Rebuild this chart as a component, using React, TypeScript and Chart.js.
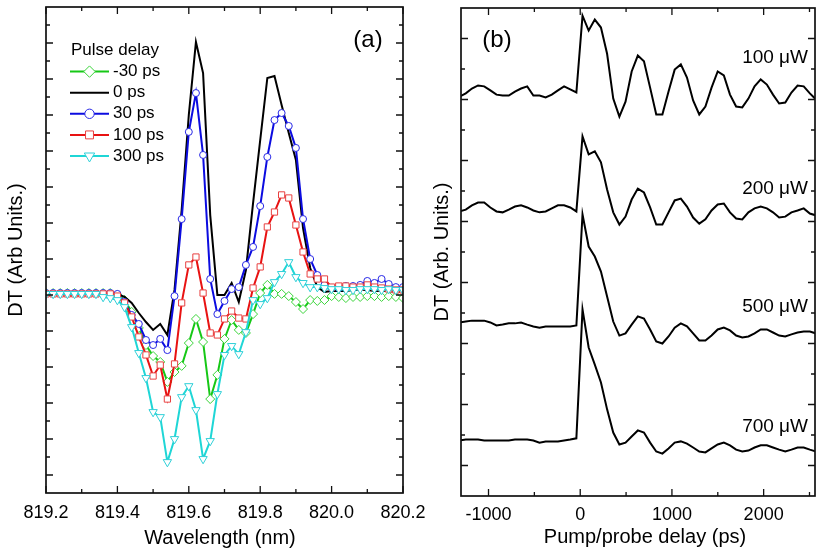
import React, { useEffect, useRef } from "react";
import { Chart, registerables } from "chart.js";

Chart.register(...registerables);

const FONT = "'Liberation Sans', Arial, Helvetica, sans-serif";
const W = 817;
const H = 553;

// ---------------- Panel (a): spectra vs wavelength ----------------
const wavelengthNm = [
  819.2, 819.22, 819.24, 819.26, 819.28, 819.3, 819.32, 819.34, 819.36, 819.38,
  819.4, 819.42, 819.44, 819.46, 819.48, 819.5, 819.52, 819.54, 819.56, 819.58,
  819.6, 819.62, 819.64, 819.66, 819.68, 819.7, 819.72, 819.74, 819.76, 819.78,
  819.8, 819.82, 819.84, 819.86, 819.88, 819.9, 819.92, 819.94, 819.96, 819.98,
  820.0, 820.02, 820.04, 820.06, 820.08, 820.1, 820.12, 820.14, 820.16, 820.18,
  820.2,
];
const wavelengthTicks = [819.2, 819.4, 819.6, 819.8, 820.0, 820.2];
const wavelengthMinorTicks = [819.3, 819.5, 819.7, 819.9, 820.1];

const dtMinus30ps = [
  0.11, 0.11, 0.11, 0.11, 0.11, 0.11, 0.11, 0.11, 0.11, 0.11,
  0.0, -0.28, -0.94, -1.83, -2.78, -3.39, -3.72, -4.83, -4.28, -3.94,
  -2.67, -1.33, -2.61, -5.78, -4.44, -2.44, -1.39, -1.94, -2.11, -1.06,
  0.11, 0.56, 0.06, 0.06, -0.06, -0.39, -0.78, -0.28, -0.33, -0.28,
  -0.06, -0.11, -0.17, -0.11, -0.11, -0.06, -0.06, -0.11, -0.06, -0.11,
  -0.17,
];
const dt0ps = [
  0.11, 0.11, 0.11, 0.11, 0.11, 0.11, 0.11, 0.11, 0.11, 0.11,
  0.06, -0.11, -0.44, -1.0, -1.5, -1.94, -1.61, -2.22, 0.28, 4.72,
  10.0, 14.06, 12.33, 4.44, 0.0, 0.0, 0.67, -0.39, 1.39, 5.11,
  8.61, 12.06, 12.17, 10.56, 9.0, 7.5, 3.72, 1.5, 0.44, 0.17,
  0.22, 0.22, 0.22, 0.28, 0.28, 0.28, 0.22, 0.22, 0.22, 0.17,
  0.17,
];
const dt30ps = [
  0.11, 0.11, 0.11, 0.11, 0.11, 0.11, 0.11, 0.11, 0.11, 0.11,
  0.06, -0.39, -1.11, -1.61, -2.5, -2.78, -2.44, -3.06, -0.06, 4.22,
  9.06, 11.22, 7.78, 0.89, -1.06, -0.33, 0.33, 0.44, 1.67, 2.67,
  4.94, 7.67, 9.72, 10.11, 9.39, 8.17, 4.22, 2.0, 1.11, 0.56,
  0.39, 0.39, 0.5, 0.5, 0.56, 0.78, 0.67, 0.89, 0.61, 0.44,
  0.44,
];
const dt100ps = [
  0.06, 0.06, 0.06, 0.06, 0.06, 0.06, 0.06, 0.06, 0.06, 0.06,
  -0.06, -0.44, -1.22, -2.33, -3.33, -4.5, -3.89, -5.78, -3.83, -0.44,
  1.67, 2.11, 0.11, -2.11, -2.22, -1.33, -0.89, -1.28, -1.33, 0.39,
  1.56, 3.78, 4.61, 5.56, 5.39, 3.89, 2.39, 1.17, 0.89, 0.89,
  0.44, 0.5, 0.5, 0.44, 0.44, 0.56, 0.44, 0.39, 0.33, 0.28,
  0.28,
];
const dt300ps = [
  0.06, 0.06, 0.06, 0.06, 0.06, 0.06, 0.06, 0.06, -0.11, -0.17,
  -0.28, -0.67, -1.78, -3.22, -4.61, -6.5, -6.78, -9.28, -8.0, -5.67,
  -5.06, -6.39, -9.11, -8.11, -5.5, -3.33, -2.83, -3.28, -2.06, -0.28,
  -0.5, -0.17, 0.72, 1.17, 1.83, 1.0, 0.67, 0.44, 0.44, 0.39,
  0.33, 0.33, 0.28, 0.28, 0.33, 0.33, 0.33, 0.28, 0.33, 0.28,
  0.28,
];
const pulseDelayLabels = ["-30 ps", "0 ps", "30 ps", "100 ps", "300 ps"];

// ---------------- Panel (b): transients vs pump/probe delay ----------------
const delayPs = [
  -1315, -1248, -1181, -1114, -1047, -980, -913, -846, -779, -712,
  -645, -578, -511, -444, -377, -310, -243, -176, -109, -42,
  25, 92, 159, 226, 293, 360, 427, 494, 561, 628,
  695, 762, 829, 896, 963, 1030, 1097, 1164, 1231, 1298,
  1365, 1432, 1499, 1566, 1633, 1700, 1767, 1834, 1901, 1968,
  2035, 2102, 2169, 2236, 2303, 2370, 2437, 2504, 2571,
];
const delayTicks = [-1000, 0, 1000, 2000];
const delayMinorTicks = [-500, 500, 1500, 2500];

const dt100uW = [
  12.1, 12.2, 12.36, 12.46, 12.43, 12.3, 12.16, 12.13, 12.13, 12.26,
  12.36, 12.43, 12.13, 12.13, 12.07, 12.16, 12.3, 12.43, 12.33, 12.23,
  14.75, 14.26, 14.62, 14.36, 13.5, 12.03, 11.44, 11.93, 12.92, 13.44,
  13.25, 12.39, 11.51, 11.51, 12.26, 12.98, 13.15, 12.72, 11.97, 11.51,
  11.77, 12.39, 12.92, 12.79, 12.16, 11.77, 11.74, 12.03, 12.43, 12.66,
  12.49, 12.16, 11.87, 11.9, 12.23, 12.46, 12.43, 12.2, 12.0,
];
const dt200uW = [
  8.33, 8.39, 8.53, 8.62, 8.62, 8.46, 8.33, 8.3, 8.39, 8.49,
  8.53, 8.46, 8.36, 8.3, 8.33, 8.43, 8.53, 8.53, 8.46, 8.33,
  10.79, 10.2, 10.3, 9.94, 9.05, 8.3, 7.9, 8.16, 8.72, 9.08,
  8.95, 8.46, 7.9, 7.9, 8.3, 8.69, 8.75, 8.49, 8.13, 7.93,
  8.07, 8.36, 8.56, 8.59, 8.3, 8.1, 8.07, 8.3, 8.43, 8.49,
  8.43, 8.3, 8.13, 8.16, 8.3, 8.36, 8.43, 8.26, 8.2,
];
const dt500uW = [
  4.69, 4.72, 4.75, 4.75, 4.75, 4.69, 4.59, 4.62, 4.66, 4.66,
  4.69, 4.62, 4.56, 4.52, 4.56, 4.56, 4.56, 4.56, 4.56, 4.59,
  8.23, 7.18, 6.85, 6.36, 5.54, 4.72, 4.26, 4.33, 4.62, 4.89,
  4.82, 4.46, 4.07, 4.0, 4.23, 4.52, 4.66, 4.56, 4.33, 4.1,
  4.1, 4.26, 4.46, 4.52, 4.43, 4.26, 4.2, 4.23, 4.33, 4.46,
  4.46, 4.36, 4.26, 4.23, 4.3, 4.36, 4.39, 4.39, 4.33,
];
const dt700uW = [
  0.82, 0.85, 0.85, 0.85, 0.82, 0.82, 0.82, 0.82, 0.82, 0.85,
  0.85, 0.85, 0.82, 0.75, 0.79, 0.79, 0.79, 0.82, 0.85, 0.89,
  5.12, 3.87, 3.31, 2.72, 1.84, 1.08, 0.69, 0.75, 0.95, 1.15,
  1.08, 0.75, 0.46, 0.39, 0.56, 0.75, 0.79, 0.72, 0.59, 0.46,
  0.43, 0.56, 0.69, 0.75, 0.66, 0.52, 0.46, 0.49, 0.59, 0.66,
  0.66, 0.59, 0.52, 0.46, 0.52, 0.59, 0.59, 0.52, 0.46,
];
const powerLabels = ["100 \u03bcW", "200 \u03bcW", "500 \u03bcW", "700 \u03bcW"];

// ---------------- styling ----------------
type Series = {
  label: string;
  values: number[];
  color: string;
  markerColor: string;
  style: string;
  radius: number;
  rotation: number;
  order: number;
};

const seriesA: Series[] = [
  { label: pulseDelayLabels[0], values: dtMinus30ps, color: "#16c816", markerColor: "#3ad43a", style: "rectRot", radius: 4.5, rotation: 0, order: 4 },
  { label: pulseDelayLabels[1], values: dt0ps, color: "#000000", markerColor: "#000000", style: "none", radius: 0, rotation: 0, order: 3 },
  { label: pulseDelayLabels[2], values: dt30ps, color: "#0c0ce0", markerColor: "#2828e6", style: "circle", radius: 3.5, rotation: 0, order: 2 },
  { label: pulseDelayLabels[3], values: dt100ps, color: "#e81212", markerColor: "#e84040", style: "rect", radius: 4.4, rotation: 0, order: 1 },
  { label: pulseDelayLabels[4], values: dt300ps, color: "#1fd6d6", markerColor: "#30d0d8", style: "triangle", radius: 4.8, rotation: 180, order: 0 },
];

const seriesB = [dt100uW, dt200uW, dt500uW, dt700uW];

function drawMarker(ctx: CanvasRenderingContext2D, style: string, x: number, y: number, r: number, rotation: number, color: string) {
  if (style === "none") return;
  ctx.save();
  ctx.beginPath();
  if (style === "circle") {
    ctx.arc(x, y, r, 0, Math.PI * 2);
  } else if (style === "rect") {
    const s = Math.SQRT1_2 * r;
    ctx.rect(x - s, y - s, 2 * s, 2 * s);
  } else if (style === "rectRot") {
    ctx.moveTo(x - r, y);
    ctx.lineTo(x, y - r);
    ctx.lineTo(x + r, y);
    ctx.lineTo(x, y + r);
    ctx.closePath();
  } else if (style === "triangle") {
    let rad = (rotation * Math.PI) / 180;
    ctx.moveTo(x + Math.sin(rad) * r, y - Math.cos(rad) * r);
    rad += (2 * Math.PI) / 3;
    ctx.lineTo(x + Math.sin(rad) * r, y - Math.cos(rad) * r);
    rad += (2 * Math.PI) / 3;
    ctx.lineTo(x + Math.sin(rad) * r, y - Math.cos(rad) * r);
    ctx.closePath();
  }
  ctx.fillStyle = "#ffffff";
  ctx.fill();
  ctx.lineWidth = 1;
  ctx.strokeStyle = color;
  ctx.stroke();
  ctx.restore();
}

function drawFrameAndTicks(
  chart: any,
  xMajor: number[],
  xMinor: number[],
  yMin: number,
  yMax: number
) {
  const { ctx, chartArea: a } = chart;
  const x = chart.scales.x;
  const y = chart.scales.y;
  ctx.save();
  ctx.strokeStyle = "#111";
  ctx.lineWidth = 1.7;
  ctx.strokeRect(a.left, a.top, a.right - a.left, a.bottom - a.top);
  ctx.lineWidth = 1.3;
  ctx.beginPath();
  const xt = (v: number, len: number) => {
    const px = x.getPixelForValue(v);
    ctx.moveTo(px, a.bottom);
    ctx.lineTo(px, a.bottom - len);
    ctx.moveTo(px, a.top);
    ctx.lineTo(px, a.top + len);
  };
  xMajor.forEach((v) => xt(v, 7));
  xMinor.forEach((v) => xt(v, 4));
  for (let v = yMin; v <= yMax; v++) {
    const py = y.getPixelForValue(v);
    const len = v % 2 === 0 ? 7 : 4;
    ctx.moveTo(a.left, py);
    ctx.lineTo(a.left + len, py);
    ctx.moveTo(a.right, py);
    ctx.lineTo(a.right - len, py);
  }
  ctx.stroke();
  ctx.restore();
}

function text(ctx: CanvasRenderingContext2D, s: string, x: number, y: number, size: number, align: CanvasTextAlign = "center", rotate = false) {
  ctx.save();
  ctx.fillStyle = "#000";
  ctx.font = `${size}px ${FONT}`;
  ctx.textAlign = align;
  ctx.textBaseline = "middle";
  if (rotate) {
    ctx.translate(x, y);
    ctx.rotate(-Math.PI / 2);
    ctx.fillText(s, 0, 0);
  } else {
    ctx.fillText(s, x, y);
  }
  ctx.restore();
}

const panelAPlugin = {
  id: "panelADecor",
  afterDraw(chart: any) {
    const ctx = chart.ctx as CanvasRenderingContext2D;
    const a = chart.chartArea;
    drawFrameAndTicks(chart, wavelengthTicks, wavelengthMinorTicks, -10, 15);
    text(ctx, "Wavelength (nm)", 220, 538, 20);
    text(ctx, "DT (Arb Units.)", 16, (a.top + a.bottom) / 2, 20, "center", true);
    text(ctx, "(a)", 368, 40, 24);
    // legend
    text(ctx, "Pulse delay", 71, 50.5, 17, "left");
    seriesA.forEach((s, i) => {
      const yy = 71.6 + i * 21.1;
      ctx.save();
      ctx.strokeStyle = s.color;
      ctx.lineWidth = 2;
      ctx.beginPath();
      ctx.moveTo(70, yy);
      ctx.lineTo(109, yy);
      ctx.stroke();
      ctx.restore();
      drawMarker(ctx, s.style, 89.5, yy, s.radius + 1.2, s.rotation, s.markerColor);
      text(ctx, s.label, 113, yy, 17, "left");
    });
  },
};

const labelYB = [58, 189, 307, 427];

const panelBPlugin = {
  id: "panelBDecor",
  afterDraw(chart: any) {
    const ctx = chart.ctx as CanvasRenderingContext2D;
    const a = chart.chartArea;
    drawFrameAndTicks(chart, delayTicks, delayMinorTicks, 0, 14);
    text(ctx, "Pump/probe delay (ps)", 645, 537, 20);
    text(ctx, "DT (Arb. Units.)", 442, (a.top + a.bottom) / 2, 20, "center", true);
    text(ctx, "(b)", 497, 40, 24);
    powerLabels.forEach((l, i) => text(ctx, l, 808, labelYB[i], 19, "right"));
  },
};

export default function App() {
  const refA = useRef<HTMLCanvasElement | null>(null);
  const refB = useRef<HTMLCanvasElement | null>(null);

  useEffect(() => {
    document.body.style.margin = "0";
    const tickFont = { family: FONT, size: 18 };

    const chartA = new Chart(refA.current as HTMLCanvasElement, {
      type: "line",
      data: {
        datasets: seriesA.map((s) => ({
          label: s.label,
          data: wavelengthNm.map((x, i) => ({ x, y: s.values[i] })),
          borderColor: s.color,
          backgroundColor: "#ffffff",
          borderWidth: 2,
          pointStyle: s.style === "none" ? false : (s.style as any),
          pointRadius: s.radius,
          pointRotation: s.rotation,
          pointBorderColor: s.markerColor,
          pointBackgroundColor: "#ffffff",
          pointBorderWidth: 1,
          tension: 0,
          order: s.order,
        })) as any,
      },
      options: {
        responsive: false,
        animation: false,
        events: [],
        layout: { padding: { left: 46, top: 7, right: W - 403, bottom: 0 } },
        plugins: { legend: { display: false }, tooltip: { enabled: false } },
        scales: {
          x: {
            type: "linear",
            min: 819.2,
            max: 820.2,
            afterBuildTicks: (sc: any) => {
              sc.ticks = wavelengthTicks.map((v) => ({ value: v }));
            },
            afterFit: (sc: any) => {
              sc.height = H - 493;
            },
            grid: { display: false },
            border: { display: false },
            ticks: {
              font: tickFont,
              color: "#000",
              padding: 1,
              maxRotation: 0,
              autoSkip: false,
              callback: (v: any) => Number(v).toFixed(1),
            },
          },
          y: { type: "linear", min: -11, max: 16, display: false },
        },
      } as any,
      plugins: [panelAPlugin],
    });

    const chartB = new Chart(refB.current as HTMLCanvasElement, {
      type: "line",
      data: {
        datasets: seriesB.map((vals, j) => ({
          label: powerLabels[j],
          data: delayPs.map((x, i) => ({ x, y: vals[i] })),
          borderColor: "#000000",
          borderWidth: 2,
          pointRadius: 0,
          tension: 0,
        })),
      },
      options: {
        responsive: false,
        animation: false,
        events: [],
        layout: { padding: { left: 461, top: 8, right: W - 815, bottom: 0 } },
        plugins: { legend: { display: false }, tooltip: { enabled: false } },
        scales: {
          x: {
            type: "linear",
            min: -1300,
            max: 2560,
            afterBuildTicks: (sc: any) => {
              sc.ticks = delayTicks.map((v) => ({ value: v }));
            },
            afterFit: (sc: any) => {
              sc.height = H - 496;
            },
            grid: { display: false },
            border: { display: false },
            ticks: {
              font: tickFont,
              color: "#000",
              padding: 0,
              maxRotation: 0,
              autoSkip: false,
              callback: (v: any) => String(v),
            },
          },
          y: { type: "linear", min: -1, max: 15, display: false },
        },
      } as any,
      plugins: [panelBPlugin],
    });

    return () => {
      chartA.destroy();
      chartB.destroy();
    };
  }, []);

  const canvasStyle: React.CSSProperties = { position: "absolute", left: 0, top: 0, width: W, height: H };
  return (
    <div style={{ position: "fixed", left: 0, top: 0, width: W, height: H, background: "#fff" }}>
      <canvas ref={refA} width={W} height={H} style={canvasStyle} />
      <canvas ref={refB} width={W} height={H} style={canvasStyle} />
    </div>
  );
}
